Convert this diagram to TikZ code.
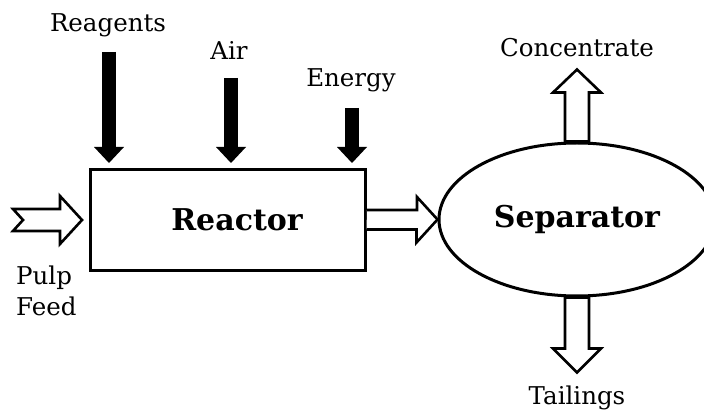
\documentclass[tikz,border=0pt]{standalone}
\usepackage{fontspec}
\setmainfont{DejaVu Serif}
\usetikzlibrary{arrows.meta,positioning,shapes.geometric}
\tikzset{>=stealth}

\begin{document}
\begin{tikzpicture}[x=1pt,y=-1pt,
  unit/.style={draw,line width=3pt,font=\bfseries\fontsize{30}{34}\selectfont},
  stream/.style={draw,line width=2.6pt,line join=miter,fill=white},
  input/.style={line width=14pt,-{Triangle[width=30pt,length=16pt,line width=0pt]},shorten >=5pt},
  lbl/.style={font=\fontsize{24.5}{31}\selectfont,inner sep=0pt}]
\useasboundingbox (0,0) rectangle (704,411);

% units
\node[unit,minimum width=275pt,minimum height=101pt] (reactor) at (228,220) {\hspace*{18pt}Reactor};
\node[unit,ellipse,minimum width=276pt,minimum height=153pt,inner sep=0pt] (sep) at (577,219.5) {Separator};

% black inputs
\node[lbl] (reagents) at (108,25) {Reagents};
\node[lbl] (air) at (229,50) {Air};
\node[lbl] (energy) at (351,80) {Energy};
\coordinate (rg) at (109,52);
\coordinate (ai) at (231,78);
\coordinate (en) at (352,108);
\draw[input] (rg) -- (rg |- reactor.north);
\draw[input] (ai) -- (ai |- reactor.north);
\draw[input] (en) -- (en |- reactor.north);

% pulp feed
\coordinate (pf) at (13,220);
\draw[stream] (pf) ++(0,-11) -- ++(47,0) -- ++(0,-13) -- ([xshift=-7pt]reactor.west)
  -- ++(-22,24) -- ++(0,-13) -- ++(-47,0) -- ++(10,-11) -- cycle;
\node[lbl,align=left,anchor=north west] (feed) at (16,266) {Pulp\\Feed};

% reactor to separator
\draw[stream] (reactor.east) ++(0,-10) -- ++(50,0) -- ++(0,-13) -- (sep.west)
  -- ++(-21,23) -- ++(0,-13) -- ++(-50,0);

% products
\coordinate[above=72pt of sep.north] (ctip);
\coordinate[below=75pt of sep.south] (ttip);
\draw[stream] (sep.north) ++(-12,0) -- ++(0,-49) -- ++(-12,0) -- (ctip)
  -- ++(24,23) -- ++(-12,0) -- ++(0,49) -- cycle;
\draw[stream] (sep.south) ++(-12,0) -- ++(0,51) -- ++(-12,0) -- (ttip)
  -- ++(24,-24) -- ++(-12,0) -- ++(0,-51) -- cycle;
\node[lbl,above=12pt of ctip] (conc) {Concentrate};
\node[lbl,below=13pt of ttip] (tail) {Tailings};
\end{tikzpicture}
\end{document}
